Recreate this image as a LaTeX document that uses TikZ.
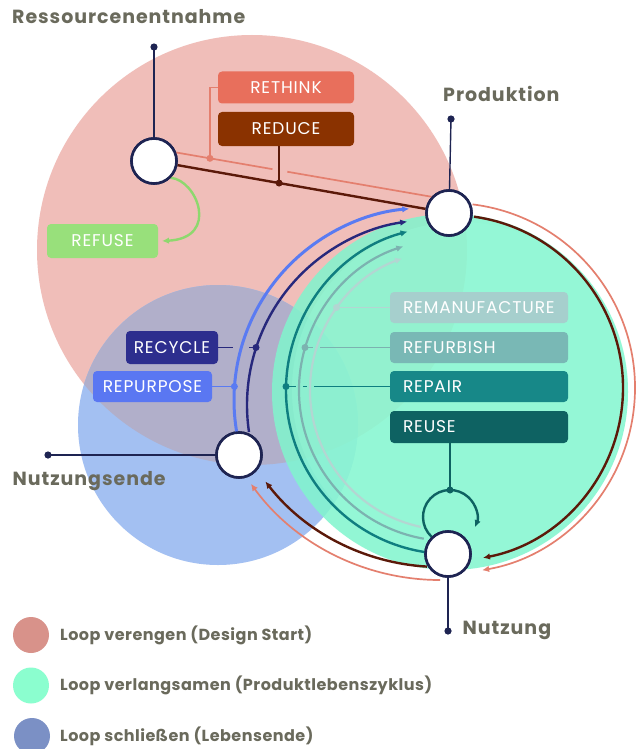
\documentclass[tikz,border=0pt]{standalone}
\usepackage{fontspec}
\setmainfont{Poppins}
\newfontfamily\headfont[LetterSpace=5]{Poppins}
\newfontfamily\legendfont[LetterSpace=3]{Poppins}
\newfontfamily\tagfont[LetterSpace=5]{Poppins}
\usetikzlibrary{arrows.meta,calc}

% zone fills
\definecolor{pinkzone}{HTML}{F0BEB9}
\definecolor{bluezone}{HTML}{A3C0F2}
\definecolor{mixzone}{HTML}{B1AFCA}
\definecolor{greenzone}{HTML}{80F5CD}
\definecolor{greencore}{HTML}{9AFBDA}
% hubs and headings
\definecolor{hubline}{HTML}{1E2452}
\definecolor{headgray}{HTML}{6A6A5C}
% strategy tags
\definecolor{rethinkc}{HTML}{E86F5C}
\definecolor{reducec}{HTML}{8A3200}
\definecolor{refusec}{HTML}{98E07B}
\definecolor{refusearc}{HTML}{8ED86E}
\definecolor{recyclec}{HTML}{2D2E8E}
\definecolor{repurposec}{HTML}{5A77F2}
\definecolor{remanc}{HTML}{A6CFCD}
\definecolor{refurbc}{HTML}{79B8B5}
\definecolor{repairc}{HTML}{178888}
\definecolor{reusec}{HTML}{0E6262}
% flows
\definecolor{salmonline}{HTML}{E47F6E}
\definecolor{brownline}{HTML}{5B1909}
\definecolor{bluearc}{HTML}{5A7BF2}
\definecolor{navyarc}{HTML}{27287C}
\definecolor{tealarc}{HTML}{0F7E80}
\definecolor{refurbarc}{HTML}{7CB2B0}
\definecolor{remanarc}{HTML}{B3D6D2}
% legend
\definecolor{legpink}{HTML}{D8928A}
\definecolor{leggreen}{HTML}{8BFECF}
\definecolor{legblue}{HTML}{7B90C5}

\tikzset{
  hub/.style={circle, draw=hubline, line width=2.6pt, fill=white, minimum size=45pt, inner sep=0pt},
  stem/.style={hubline, line width=1.4pt},
  tag/.style={rounded corners=4pt, text=white, font=\tagfont\fontsize{17}{17}\selectfont,
              minimum height=32pt, inner sep=0pt},
  lefttag/.style={tag, align=center},
  righttag/.style={tag, minimum width=178pt, text width=152pt, inner xsep=13pt, align=left},
  heading/.style={font=\headfont\bfseries\fontsize{19}{19}\selectfont, text=headgray,
                  anchor=base west, inner sep=0pt},
  legendtext/.style={font=\legendfont\bfseries\fontsize{16}{16}\selectfont, text=headgray,
                  anchor=base west, inner sep=0pt},
  tip/.style={-{Latex[length=7pt,width=6.5pt]}},
}

\begin{document}
\begin{tikzpicture}[x=1pt,y=-1pt]
\useasboundingbox (0,0) rectangle (643,749);
\fill[white] (0,0) rectangle (643,749);

% ---- three loop zones ----
\fill[pinkzone] (252,250) circle[radius=215];
\fill[bluezone] (218,425) circle[radius=140];
\begin{scope}
  \clip (252,250) circle[radius=215];
  \fill[mixzone] (218,425) circle[radius=140];
\end{scope}
\fill[greenzone, fill opacity=0.85] (450,392) circle[radius=178];
\fill[greencore, fill opacity=0.35] (460,390) circle[radius=168];

% ---- hubs (placed first so connectors can refer to them) ----
\path node[hub] (res)  at (154,161) {}
      node[hub] (prod) at (449,213) {}
      node[hub] (ende) at (239,455) {}
      node[hub] (nutz) at (448,554) {};

% ---- stems to end dots ----
\coordinate (resdot)  at (154,47);
\coordinate (proddot) at (451,119);
\coordinate (endedot) at (48,455);
\coordinate (nutzdot) at (448,631);

% ---- strategy tags ----
\node[lefttag, fill=rethinkc, minimum width=136pt] (rethink) at (286,87.5) {RETHINK};
\node[lefttag, fill=reducec, minimum width=136pt, minimum height=34pt] (reduce) at (286,129) {REDUCE};
\node[lefttag, fill=refusec, minimum width=111pt, minimum height=34pt] (refuse) at (102.5,241) {REFUSE};
\node[lefttag, fill=recyclec, minimum width=92pt, minimum height=33pt] (recycle) at (172,347.5) {RECYCLE};
\node[lefttag, fill=repurposec, minimum width=119pt, minimum height=31pt] (repurpose) at (152.5,386.5) {REPURPOSE};
\node[righttag, fill=remanc, minimum height=31pt] (reman) at (479,307.5) {REMANUFACTURE};
\node[righttag, fill=refurbc, minimum height=31pt] (refurb) at (479,347.5) {REFURBISH};
\node[righttag, fill=repairc, minimum height=31pt] (repair) at (479,386.5) {REPAIR};
\node[righttag, fill=reusec, minimum height=32pt] (reuse) at (479,427) {REUSE};

% ---- outer flows: Ressourcenentnahme -> Produktion -> Nutzung -> Nutzungsende ----
\coordinate (sA) at (res.21);
\coordinate (sB) at (prod.137);
\coordinate (thinkdot) at ($(sA)!0.132!(sB)$);
\coordinate (gap1) at ($(sA)!0.377!(sB)$);
\coordinate (gap2) at ($(sA)!0.435!(sB)$);
\draw[salmonline, line width=1.7pt] (sA) -- (gap1) (gap2) -- (sB);
\draw[brownline, line width=2.4pt] (res) -- (prod);
\coordinate (reducedot) at ($(res)!0.424!(prod)$);

\draw[salmonline, line width=1.7pt, tip] (450,388) ++(-83:185) arc[start angle=-83, end angle=80, radius=185];
\draw[brownline, line width=2.4pt, tip] (450,388) ++(-82:173) arc[start angle=-82, end angle=79, radius=173];
\draw[brownline, line width=2.4pt, tip] (440,346) ++(93.4:221) arc[start angle=93.4, end angle=142.2, radius=221];
\draw[salmonline, line width=1.7pt, tip] (440,346) ++(90:234) arc[start angle=90, end angle=143.9, radius=234];

% ---- closing loops: Nutzungsende -> Produktion ----
\draw[bluearc, line width=3pt, tip] (426,400) ++(170:192) arc[start angle=170, end angle=265, radius=192];
\draw[navyarc, line width=2.4pt, tip] (432,405) ++(171.6:185) arc[start angle=171.6, end angle=262.3, radius=185];

% ---- slowing loops: Nutzung -> Produktion ----
\draw[remanarc, line width=2.2pt, tip] (450,390) ++(102:140) arc[start angle=102, end angle=250, radius=140];
\draw[refurbarc, line width=2.2pt, tip] (450,390) ++(100:151) arc[start angle=100, end angle=252, radius=151];
\draw[tealarc, line width=2.4pt, tip] (450,390) ++(98:164) arc[start angle=98, end angle=255, radius=164];

% ---- reuse loop on Nutzung ----
\coordinate (reusedot) at (450,490);
\draw[reusec, line width=2.4pt, tip] (450,517) ++(133:27) arc[start angle=133, end angle=382, radius=27];

% ---- refuse ----
\coordinate (refusetip) at (162,241);
\draw[refusearc, line width=2.4pt, tip] (res.-45) .. controls (197,180) and (220,238) .. (refusetip);

% ---- tag connectors ----
\draw[salmonline, line width=1.5pt] (rethink.west) -| (thinkdot);
\fill[salmonline] (thinkdot) circle[radius=3.5];
\draw[brownline, line width=1.5pt] (reduce.south -| reducedot) -- (reducedot);
\fill[brownline] (reducedot) circle[radius=3.5];

\coordinate (recycledot) at (256,347.5);
\coordinate (recgapL) at (233,347.5);
\coordinate (recgapR) at (249,347.5);
\draw[navyarc, line width=1.5pt] (recycle.east) -- (recgapL) (recgapR) -- (recycledot);
\fill[navyarc] (recycledot) circle[radius=3.5];

\coordinate (repurposedot) at (234.4,386.5);
\draw[bluearc, line width=1.5pt] (repurpose.east) -- (repurposedot);
\fill[bluearc] (repurposedot) circle[radius=3.5];

\coordinate (remandot) at (336.5,307.5);
\draw[remanarc, line width=1.5pt] (reman.west) -- (remandot);
\fill[remanarc] (remandot) circle[radius=3.5];

\coordinate (refurbdot) at (305,347.5);
\coordinate (rfgapL) at (312.5,347.5);
\coordinate (rfgapR) at (320,347.5);
\draw[refurbarc, line width=1.5pt] (refurb.west) -- (rfgapR) (rfgapL) -- (refurbdot);
\fill[refurbarc] (refurbdot) circle[radius=3.5];

\coordinate (repairdot) at (286,386.5);
\coordinate (rpA) at (295.5,386.5);
\coordinate (rpB) at (302.5,386.5);
\coordinate (rpC) at (306.5,386.5);
\coordinate (rpD) at (313.5,386.5);
\draw[tealarc, line width=1.5pt] (repair.west) -- (rpD) (rpC) -- (rpB) (rpA) -- (repairdot);
\fill[tealarc] (repairdot) circle[radius=3.5];

\draw[reusec, line width=1.5pt] (reuse.south -| reusedot) -- (reusedot);
\fill[reusec] (reusedot) circle[radius=3.5];

% ---- hub stems and redraw hubs on top ----
\draw[stem] (res) -- (resdot);
\draw[stem] (prod) -- (proddot);
\draw[stem] (ende) -- (endedot);
\draw[stem] (nutz) -- (nutzdot);
\foreach \d in {resdot,proddot,endedot,nutzdot} \fill[hubline] (\d) circle[radius=3.6];
\path node[hub] at (res) {} node[hub] at (prod) {} node[hub] at (ende) {} node[hub] at (nutz) {};

% ---- stage headings ----
\node[heading] (hres)  at (12,23.3)   {Ressourcenentnahme};
\node[heading] (hprod) at (443,101.7) {Produktion};
\node[heading] (hende) at (12.5,485)  {Nutzungsende};
\node[heading] (hnutz) at (462.5,634.3) {Nutzung};

% ---- legend ----
\fill[legpink]  (31,635) circle[radius=18];
\fill[leggreen] (31,685.5) circle[radius=18];
\fill[legblue]  (32,736) circle[radius=18];
\node[legendtext] (l1) at (60,640)   {Loop verengen (Design Start)};
\node[legendtext] (l2) at (60,690.7) {Loop verlangsamen (Produktlebenszyklus)};
\node[legendtext] (l3) at (60,741.5) {Loop schließen (Lebensende)};
\end{tikzpicture}
\end{document}
